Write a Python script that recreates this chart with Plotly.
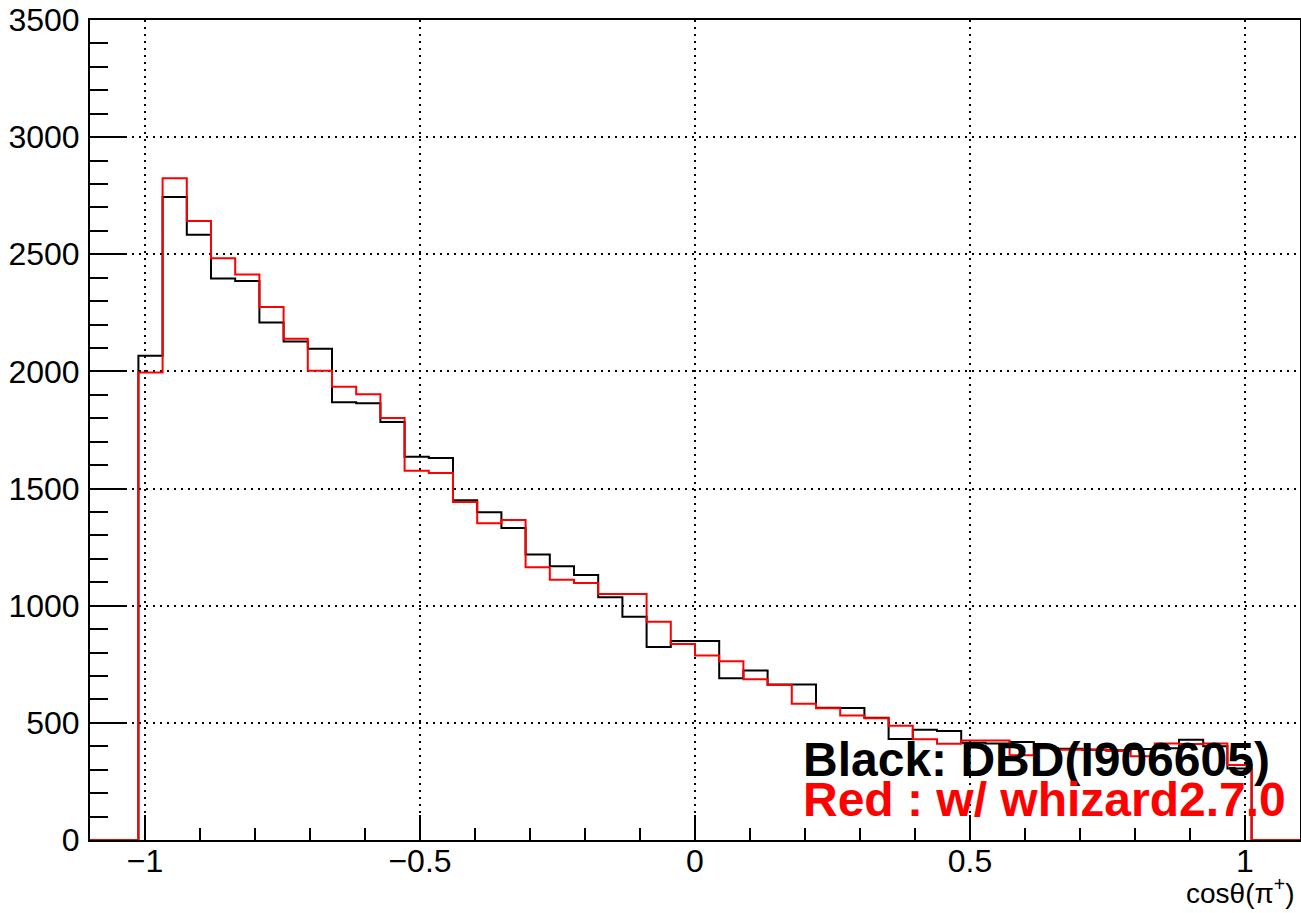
import numpy as np
import plotly.graph_objects as go

# histogram binning (ROOT TH1: 50 bins on [-1.1, 1.1])
N_BINS = 50
X_MIN, X_MAX = -1.1, 1.1

# bin contents
black_counts = [0, 0, 2067, 2744, 2583, 2397, 2386, 2209, 2128, 2097,
                1868, 1864, 1784, 1636, 1630, 1450, 1399, 1332, 1219, 1168,
                1131, 1036, 953, 824, 849, 849, 690, 724, 664, 664,
                565, 563, 522, 431, 471, 465, 415, 412, 418, 392,
                390, 385, 383, 388, 392, 428, 400, 305, 0, 0]
red_counts = [0, 0, 1995, 2825, 2642, 2483, 2414, 2275, 2140, 2003,
              1935, 1903, 1801, 1576, 1566, 1443, 1352, 1366, 1164, 1111,
              1097, 1050, 1050, 932, 837, 788, 763, 686, 662, 582,
              562, 531, 520, 488, 430, 411, 425, 425, 362, 393,
              385, 386, 380, 358, 412, 410, 412, 320, 0, 0]

x_ticks = [-1, -0.5, 0, 0.5, 1]
x_ticktext = ["\u22121", "\u22120.5", "0", "0.5", "1"]
y_ticks = [0, 500, 1000, 1500, 2000, 2500, 3000, 3500]

FONT = "Liberation Sans, Arial, Helvetica, sans-serif"

edges = np.linspace(X_MIN, X_MAX, N_BINS + 1)


def _step(counts):
    # 'hv' step outline: one point per low edge + closing point at the last edge
    return list(edges), list(counts) + [counts[-1]]


fig = go.Figure()
for counts, color in [(black_counts, "#000000"), (red_counts, "#ff0000")]:
    xs, ys = _step(counts)
    fig.add_trace(go.Scatter(
        x=xs, y=ys, mode="lines", line_shape="hv",
        line=dict(color=color, width=2),
        showlegend=False, hoverinfo="skip",
    ))

# ── text labels ──────────────────────────────────────────────────────────────
fig.add_annotation(
    x=0.2, y=345, xref="x", yref="y", xanchor="left", yanchor="middle",
    xshift=-4,
    text="<b>Black: DBD(I906605)</b>", showarrow=False,
    font=dict(family=FONT, size=48, color="#000000"),
)
fig.add_annotation(
    x=0.2, y=171, xref="x", yref="y", xanchor="left", yanchor="middle",
    xshift=-4,
    text="<b>Red : w/ whizard2.7.0</b>", showarrow=False,
    font=dict(family=FONT, size=48, color="#ff0000"),
)
fig.add_annotation(
    x=1.0, y=-0.062, xref="paper", yref="paper", xanchor="right", yanchor="middle",
    xshift=-3,
    text="cos\u03b8(\u03c0<sup>+</sup>)", showarrow=False,
    font=dict(family=FONT, size=28, color="#000000"),
)

fig.update_layout(
    width=1301, height=913,
    margin=dict(l=90, r=1, t=20, b=73),
    paper_bgcolor="white", plot_bgcolor="white",
    font=dict(family=FONT, size=32, color="#000000"),
    xaxis=dict(
        range=[X_MIN, X_MAX], automargin=False,
        showline=True, mirror=True,
        linecolor="black", linewidth=2, zeroline=False,
        tickvals=x_ticks, ticktext=x_ticktext,
        ticks="inside", ticklen=25, tickwidth=2, tickcolor="black",
        ticklabelstandoff=-8,
        showgrid=True, gridcolor="black", gridwidth=2, griddash="2px,5px",
        minor=dict(ticks="inside", ticklen=12, tickwidth=2, tickcolor="black",
                   dtick=0.1, tick0=0, showgrid=False),
        tickfont=dict(size=32),
    ),
    yaxis=dict(
        range=[0, 3500], automargin=False,
        showline=True, mirror=True,
        linecolor="black", linewidth=2, zeroline=False,
        tickvals=y_ticks,
        ticks="inside", ticklen=36, tickwidth=2, tickcolor="black",
        ticklabelstandoff=2,
        showgrid=True, gridcolor="black", gridwidth=2, griddash="2px,5px",
        minor=dict(ticks="inside", ticklen=18, tickwidth=2, tickcolor="black",
                   dtick=100, tick0=0, showgrid=False),
        tickfont=dict(size=32),
    ),
)

# page body has an 8px default margin; drop it so the figure fills the window
fig.write_html("out.html", config={"displayModeBar": False},
               post_script="document.body.style.margin='0';")
